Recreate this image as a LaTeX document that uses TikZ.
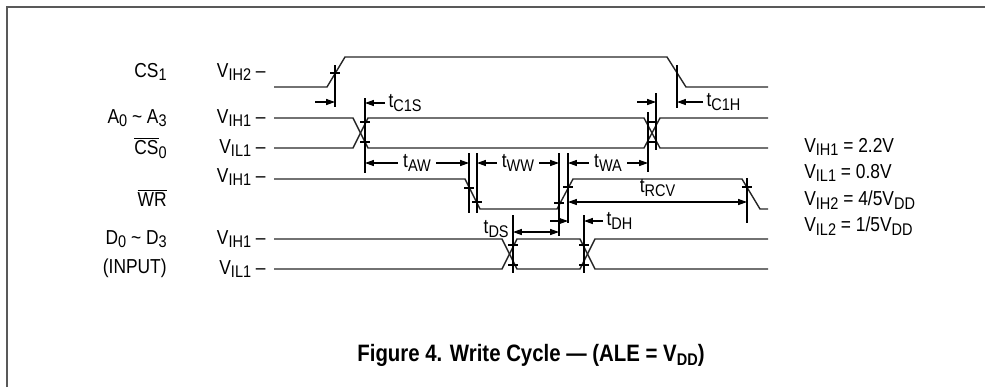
\documentclass[tikz,border=0pt]{standalone}
\usepackage{fontspec}
\setmainfont{Liberation Sans}[FakeStretch=0.86]
\usetikzlibrary{arrows.meta}

\newcommand{\sbs}[1]{\raisebox{-0.35ex}{\fontsize{9.6}{9.6}\selectfont #1}}
\newcommand{\ovl}[1]{$\overline{\mbox{#1}}$}

\tikzset{
  sig/.style={line width=0.8pt, draw=black!85},
  guide/.style={line width=0.6pt},
  tick/.style={line width=0.6pt},
  dim/.style={line width=0.6pt},
  lbl/.style={font=\fontsize{11.5}{11.5}\selectfont, inner sep=0pt},
  gap/.style={lbl, fill=white, inner xsep=3pt, inner ysep=1pt},
}

\begin{document}
\begin{tikzpicture}[x=0.02cm,y=-0.02cm,>={Stealth[length=5pt,width=3.4pt,inset=0pt]}]
\useasboundingbox (0,0) rectangle (985,387);
% frame
\draw[line width=1.1pt, black!65] (7,387) -- (7,7) -- (985,7);

% signal names
\node[lbl,anchor=east] (ncs1) at (167,72) {CS\sbs{1}};
\node[lbl,anchor=east] (nadr) at (167,118) {A\sbs{0} \textasciitilde{} A\sbs{3}};
\node[lbl,anchor=east] (ncs0) at (167,148) {\ovl{CS}\sbs{0}};
\node[lbl,anchor=east] (nwr) at (167,198) {\ovl{WR}};
\node[lbl,anchor=east] (ndat) at (167,239) {D\sbs{0} \textasciitilde{} D\sbs{3}};
\node[lbl,anchor=east] (ninp) at (167,268) {(INPUT)};

% levels
\node[lbl,anchor=east] (lcs1) at (266,72) {V\sbs{IH2} –};
\node[lbl,anchor=east] (ladrh) at (266,118) {V\sbs{IH1} –};
\node[lbl,anchor=east] (ladrl) at (266,148) {V\sbs{IL1} –};
\node[lbl,anchor=east] (lwr) at (266,177) {V\sbs{IH1} –};
\node[lbl,anchor=east] (ldath) at (266,239) {V\sbs{IH1} –};
\node[lbl,anchor=east] (ldatl) at (266,269) {V\sbs{IL1} –};

% waveforms
\draw[sig] (274,87) -- (327,87) -- (345,57) -- (667,57) -- (686,87) -- (768,87);
\draw[sig] (274,118) -- (353,118) -- (368,148) -- (644,148) -- (660,118) -- (768,118);
\draw[sig] (274,148) -- (353,148) -- (368,118) -- (644,118) -- (660,148) -- (768,148);
\draw[sig] (274,179) -- (465,179) -- (480,209) -- (557,209) -- (573,179) -- (742,179) -- (760,209) -- (768,209);
\draw[sig] (274,239) -- (502,239) -- (517,269) -- (580,269) -- (595,239) -- (768,239);
\draw[sig] (274,269) -- (502,269) -- (517,239) -- (580,239) -- (595,269) -- (768,269);

% reference lines
\coordinate (a) at (335,65);     \coordinate (a') at (335,107);
\coordinate (b) at (365,98);     \coordinate (b') at (365,173);
\coordinate (c) at (648,112);    \coordinate (c') at (648,172);
\coordinate (d) at (656,93);     \coordinate (d') at (656,150);
\coordinate (e) at (677,65);     \coordinate (e') at (677,108);
\coordinate (f) at (469,153);    \coordinate (f') at (469,213);
\coordinate (g) at (477,153);    \coordinate (g') at (477,213);
\coordinate (h) at (559,153);    \coordinate (h') at (559,236);
\coordinate (i) at (568,153);    \coordinate (i') at (568,223);
\coordinate (j) at (747,178);    \coordinate (j') at (747,223);
\coordinate (k) at (513,215);    \coordinate (k') at (513,273);
\coordinate (l) at (584,215);    \coordinate (l') at (584,273);
\foreach \p in {a,b,c,d,e,f,g,h,i,j,k,l}
  \draw[guide] (\p) -- (\p');

% crossing marks
\foreach \x/\y in {335/73, 365/122, 365/142, 652/122, 652/142, 469/188, 477/202,
                   559/203, 568/187, 747/187, 513/245, 513/265, 584/245, 584/265}
  \draw[tick] (\x-5,\y) -- (\x+5,\y);

% timing
\draw[dim,->] (315,102) -- (a|-0,102);
\draw[dim,->] (385,103) -- (b|-0,103) node[lbl,anchor=west] at (388,103) {t\sbs{C1S}};
\draw[dim,->] (637,102) -- (d|-0,102);
\draw[dim,->] (703,102) -- (e|-0,102) node[lbl,anchor=west] at (706,102) {t\sbs{C1H}};
\draw[dim,<->] (b|-0,163) -- (f|-0,163) node[gap,midway] {t\sbs{AW}};
\draw[dim,<->] (g|-0,163) -- (h|-0,163) node[gap,midway] {t\sbs{WW}};
\draw[dim,<->] (i|-0,163) -- (c|-0,163) node[gap,midway] {t\sbs{WA}};
\draw[dim,<->] (i|-0,202) -- (j|-0,202) node[lbl,midway,above=3pt] {t\sbs{RCV}};
\draw[dim,<->] (k|-0,232) -- (h|-0,232);
\node[lbl,anchor=east] (tds) at (509,229) {t\sbs{DS}};
\draw[dim,->] (550,221) -- (i|-0,221);
\draw[dim,->] (603,221) -- (l|-0,221) node[lbl,anchor=west] at (606,221) {t\sbs{DH}};

% levels key
\node[lbl,anchor=west] (k1) at (804,147) {V\sbs{IH1} = 2.2V};
\node[lbl,anchor=west] (k2) at (804,173) {V\sbs{IL1} = 0.8V};
\node[lbl,anchor=west] (k3) at (804,200) {V\sbs{IH2} = 4/5V\sbs{DD}};
\node[lbl,anchor=west] (k4) at (804,226) {V\sbs{IL2} = 1/5V\sbs{DD}};

\node[lbl,font=\fontsize{13.5}{13.5}\selectfont\bfseries] (cap) at (531,355) {Figure 4. Write Cycle --- (ALE = V\sbs{DD})};
\end{tikzpicture}
\end{document}
